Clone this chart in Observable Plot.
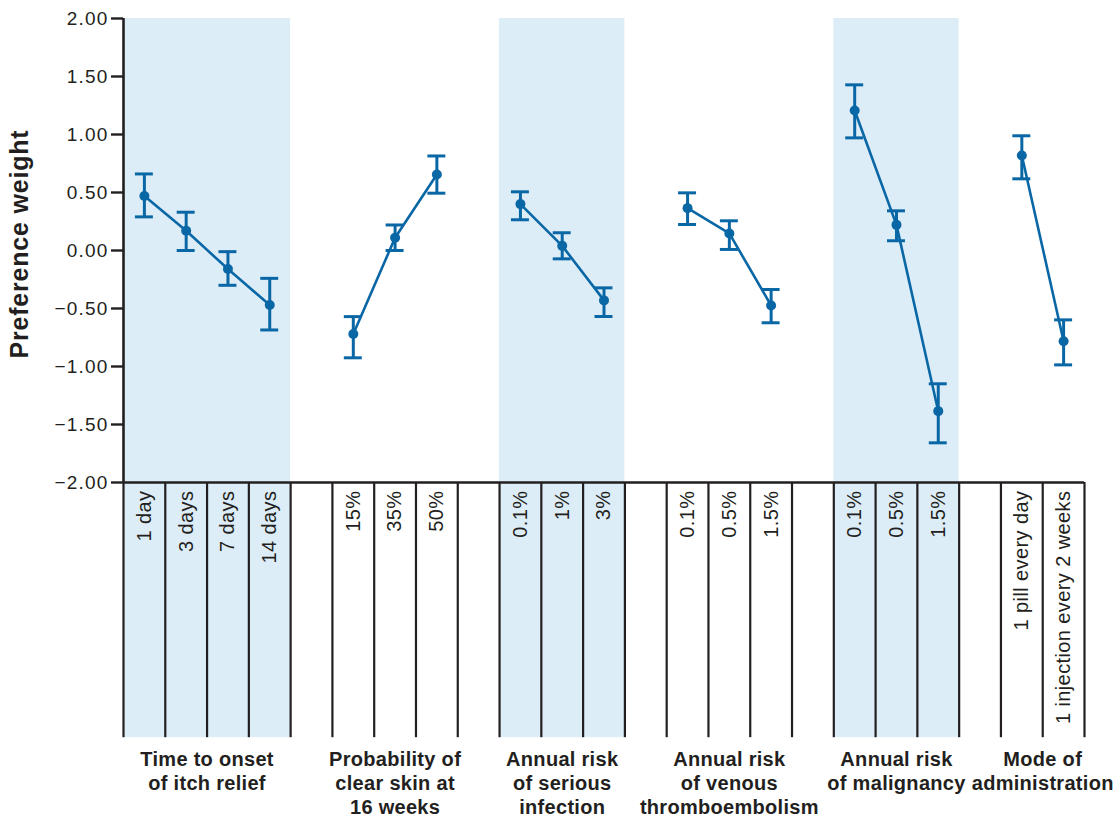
<!DOCTYPE html>
<html>
<head>
<meta charset="utf-8">
<script src="https://cdn.jsdelivr.net/npm/d3@7"></script>
<script src="https://cdn.jsdelivr.net/npm/@observablehq/plot@0.6"></script>
<style>
  html, body { margin: 0; padding: 0; background: #fff; }
</style>
</head>
<body>
<div id="chart"></div>
<script>
// ---- Data ----
const attributes = [
  "Time to onset\nof itch relief",
  "Probability of\nclear skin at\n16 weeks",
  "Annual risk\nof serious\ninfection",
  "Annual risk\nof venous\nthromboembolism",
  "Annual risk\nof malignancy",
  "Mode of\nadministration"
];
const levels = [
  ["1 day", "3 days", "7 days", "14 days"],
  ["15%", "35%", "50%"],
  ["0.1%", "1%", "3%"],
  ["0.1%", "0.5%", "1.5%"],
  ["0.1%", "0.5%", "1.5%"],
  ["1 pill every day", "1 injection every 2 weeks"]
];
const weights = [
  [0.47, 0.17, -0.16, -0.47],
  [-0.72, 0.11, 0.655],
  [0.40, 0.04, -0.43],
  [0.365, 0.147, -0.474],
  [1.207, 0.221, -1.385],
  [0.819, -0.782]
];
const upper = [
  [0.66, 0.33, -0.01, -0.24],
  [-0.57, 0.22, 0.815],
  [0.506, 0.153, -0.322],
  [0.497, 0.256, -0.336],
  [1.428, 0.342, -1.149],
  [0.989, -0.598]
];
const lower = [
  [0.29, 0.0, -0.30, -0.685],
  [-0.925, 0.0, 0.494],
  [0.265, -0.072, -0.569],
  [0.224, 0.009, -0.623],
  [0.971, 0.084, -1.658],
  [0.618, -0.986]
];
const shaded = [true, false, true, false, true, false];
const yTicks = [-2, -1.5, -1, -0.5, 0, 0.5, 1, 1.5, 2];
const yLabel = "Preference weight";

// ---- Build tables ----
const groups = [];
const points = [];
const boundaries = [];
let start = 0;
attributes.forEach((name, i) => {
  const n = levels[i].length;
  groups.push({name, start, end: start + n, center: start + n / 2, shaded: shaded[i]});
  for (let k = 0; k <= n; k++) boundaries.push(start + k);
  levels[i].forEach((lv, j) => {
    points.push({group: i, level: lv, slot: start + j + 0.5, w: weights[i][j], lo: lower[i][j], hi: upper[i][j]});
  });
  start += n + 1;
});
const total = start - 1;

const BLUE = "#0a67a6";
const BAND = "#ddedf8";
const INK = "#231f20";
const BOTTOM = -4.2;   // bottom of the level table
const LEVEL_Y = -2.07; // anchor for rotated level labels
const ATTR_Y = -4.30;  // top of attribute labels
const CAP = 0.215;     // half cap width in slot units

const chart = Plot.plot({
  width: 1117,
  height: 819,
  marginLeft: 123,
  marginRight: 33,
  marginTop: 18,
  marginBottom: 337,
  x: {domain: [0, total], axis: null},
  y: {domain: [-2, 2], axis: null},
  style: {fontFamily: "'Liberation Sans', Arial, sans-serif", background: "#fff", color: INK},
  marks: [
    Plot.rect(groups.filter(g => g.shaded), {x1: "start", x2: "end", y1: 2, y2: BOTTOM, fill: BAND}),
    Plot.ruleX(boundaries, {x: d => d, y1: -2, y2: BOTTOM, stroke: INK, strokeWidth: 2.2}),
    Plot.ruleX([0], {y1: 2, y2: -2, stroke: INK, strokeWidth: 2.6}),
    Plot.ruleY([-2], {x1: 0, x2: total, stroke: INK, strokeWidth: 2.6}),
    Plot.axisY({
      ticks: yTicks,
      tickFormat: d => d.toFixed(2).replace("-", "\u2212"),
      tickSize: 12,
      tickPadding: 3,
      fontSize: 19,
      stroke: INK,
      strokeWidth: 2.4,
      fill: INK,
      label: null
    }),
    Plot.ruleX(points, {x: "slot", y1: "lo", y2: "hi", stroke: BLUE, strokeWidth: 3}),
    Plot.ruleY(points, {y: "lo", x1: d => d.slot - CAP, x2: d => d.slot + CAP, stroke: BLUE, strokeWidth: 3}),
    Plot.ruleY(points, {y: "hi", x1: d => d.slot - CAP, x2: d => d.slot + CAP, stroke: BLUE, strokeWidth: 3}),
    Plot.line(points, {x: "slot", y: "w", z: "group", stroke: BLUE, strokeWidth: 2.6}),
    Plot.dot(points, {x: "slot", y: "w", r: 5, fill: BLUE}),
    Plot.text(points, {
      x: "slot", y: LEVEL_Y, text: "level", rotate: -90, textAnchor: "end",
      lineAnchor: "middle", fontSize: 20, fill: INK
    }),
    Plot.text(groups, {
      x: "center", y: ATTR_Y, text: "name", lineAnchor: "top", lineHeight: 1.2,
      fontWeight: "bold", fontSize: 20, fill: INK
    }),
    Plot.text([yLabel], {
      frameAnchor: "left", dx: -104, dy: -6.5, rotate: -90, text: d => d,
      textAnchor: "middle", lineAnchor: "middle",
      fontWeight: "bold", fontSize: 25, fill: INK
    })
  ]
});

document.getElementById("chart").appendChild(chart);
const svg = d3.select(chart);
svg.selectAll('g[font-size="19"]').style("letter-spacing", "1.2px");
svg.selectAll('g[font-size="20"]').filter(function () { return !this.hasAttribute("font-weight"); }).style("letter-spacing", "0.4px");
svg.selectAll('g[font-size="20"][font-weight="bold"]').style("letter-spacing", "0.3px");
svg.selectAll('g[font-size="25"]').style("letter-spacing", "0.8px");
</script>
</body>
</html>
